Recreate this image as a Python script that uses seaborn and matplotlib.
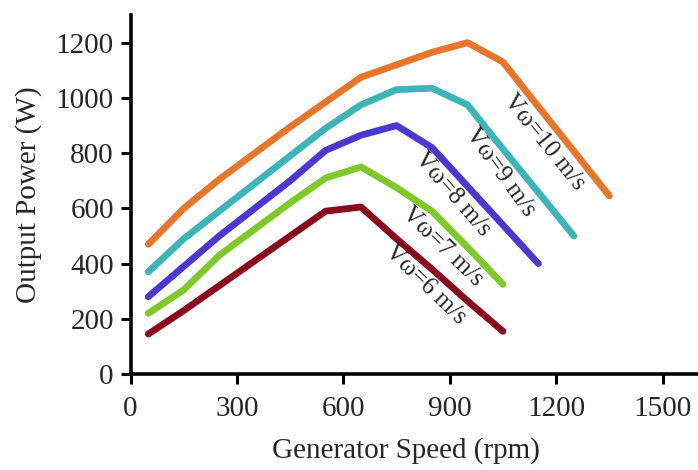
import pandas as pd
import seaborn as sns
import matplotlib.pyplot as plt

# Generator speed (rpm) and output power (W)
speed_6 = [50, 150, 250, 350, 450, 550, 650, 750, 850, 950, 1050]
power_6 = [145, 230, 320, 410, 500, 590, 605, 490, 380, 265, 155]

speed_7 = [50, 150, 250, 350, 450, 550, 650, 750, 850, 950, 1050]
power_7 = [220, 305, 430, 525, 620, 710, 750, 675, 590, 460, 325]

speed_8 = [50, 150, 250, 350, 450, 550, 650, 750, 850, 950, 1050, 1150]
power_8 = [280, 390, 500, 600, 700, 810, 865, 900, 820, 680, 540, 400]

speed_9 = [50, 150, 250, 350, 450, 550, 650, 750, 850, 950, 1050, 1150, 1250]
power_9 = [370, 490, 590, 690, 790, 890, 975, 1030, 1035, 975, 815, 658, 500]

speed_10 = [50, 150, 250, 350, 450, 550, 650, 750, 850, 950, 1050, 1150, 1250, 1350]
power_10 = [470, 600, 705, 800, 895, 985, 1075, 1120, 1165, 1200, 1130, 968, 807, 645]

wind_labels = ["Vω=6 m/s", "Vω=7 m/s", "Vω=8 m/s", "Vω=9 m/s", "Vω=10 m/s"]
colors = ["#8B0A1E", "#7DC92A", "#4A38D2", "#3DB5B8", "#E8762A"]

# long-form table for seaborn
frames = []
for lab, s, p in zip(wind_labels,
                     [speed_6, speed_7, speed_8, speed_9, speed_10],
                     [power_6, power_7, power_8, power_9, power_10]):
    frames.append(pd.DataFrame({"speed": s, "power": p, "wind": lab}))
df = pd.concat(frames, ignore_index=True)

sns.set_style("ticks")
plt.rcParams['font.family'] = ['Liberation Serif', 'DejaVu Serif']

fig = plt.figure(figsize=(6.98, 4.70), dpi=100)
ax = fig.add_axes([0.187, 0.204, 0.813, 0.764])

sns.lineplot(data=df, x="speed", y="power", hue="wind", palette=colors,
             linewidth=4.9, legend=False, ax=ax, solid_capstyle="round",
             solid_joinstyle="round")

# curve labels along the falling side
label_pos = [(832, 325, -44), (879, 462, -44), (908, 653, -49),
             (1041, 732, -54), (1165, 840, -51)]
for lab, (x, y, rot) in zip(wind_labels, label_pos):
    ax.text(x, y, lab, rotation=rot, ha="center", va="center",
            fontsize=18, rotation_mode="anchor")

ax.set_xlim(0, 1600)
ax.set_ylim(0, 1300)
ax.set_xticks([0, 300, 600, 900, 1200, 1500])
ax.set_yticks([0, 200, 400, 600, 800, 1000, 1200])
ax.set_xlabel("Generator Speed (rpm)", fontsize=21, labelpad=15)
ax.xaxis.set_label_coords(0.486, -0.175)
ax.set_ylabel("Output Power (W)", fontsize=21, labelpad=10)
ax.tick_params(labelsize=21, width=2.2, length=7, color="black")
ax.tick_params(axis="x", pad=9)
ax.tick_params(axis="y", pad=5)
for side in ["left", "bottom"]:
    ax.spines[side].set_linewidth(2.6)
    ax.spines[side].set_color("black")
sns.despine(ax=ax)

fig.savefig("out.png", dpi=100)
